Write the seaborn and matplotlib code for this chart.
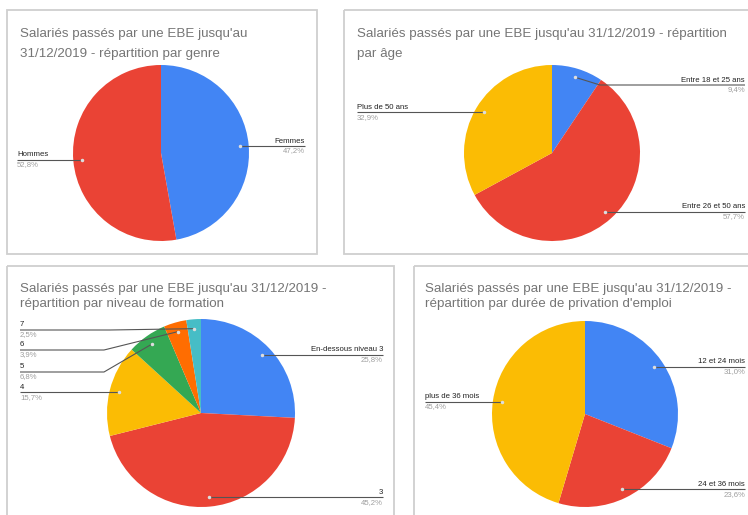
import numpy as np
import matplotlib
matplotlib.use("Agg")
import matplotlib.pyplot as plt
from matplotlib.patches import Rectangle
import seaborn as sns

# ---------------- data ----------------
genre_labels = ["Femmes", "Hommes"]
genre_values = [47.2, 52.8]

age_labels = ["Entre 18 et 25 ans", "Entre 26 et 50 ans", "Plus de 50 ans"]
age_values = [9.4, 57.7, 32.9]

formation_labels = ["En-dessous niveau 3", "3", "4", "5", "6", "7"]
formation_values = [25.8, 45.2, 15.7, 6.8, 3.9, 2.5]

duree_labels = ["12 et 24 mois", "24 et 36 mois", "plus de 36 mois"]
duree_values = [31.0, 23.6, 45.4]

titles = [
    ["Salariés passés par une EBE jusqu'au", "31/12/2019 - répartition par genre"],
    ["Salariés passés par une EBE jusqu'au 31/12/2019 - répartition", "par âge"],
    ["Salariés passés par une EBE jusqu'au 31/12/2019 -", "répartition par niveau de formation"],
    ["Salariés passés par une EBE jusqu'au 31/12/2019 -", "répartition par durée de privation d'emploi"],
]

# ---------------- style ----------------
sns.set_theme(style="white")
plt.rcParams["font.family"] = ["Liberation Sans", "DejaVu Sans"]

palette = sns.color_palette(["#4285F4", "#EA4335", "#FBBC04", "#34A853", "#FF6D01", "#46BDC6"])

W, H = 748, 515
fig = plt.figure(figsize=(W / 100, H / 100), dpi=100)
fig.patch.set_facecolor("white")

bg = fig.add_axes([0, 0, 1, 1], zorder=0)
bg.set_xlim(0, W)
bg.set_ylim(H, 0)
bg.axis("off")

fg = fig.add_axes([0, 0, 1, 1], zorder=5)
fg.set_xlim(0, W)
fg.set_ylim(H, 0)
fg.axis("off")
fg.patch.set_visible(False)

# panel frames (x0, y0, x1, y1) in pixels
panels = [(7, 10, 317, 254), (344, 10, 770, 254), (7, 266, 394, 530), (414, 266, 770, 530)]
for x0, y0, x1, y1 in panels:
    bg.add_patch(Rectangle((x0, y0), x1 - x0, y1 - y0, fill=False,
                           edgecolor="#cfcfcf", linewidth=1.3))

# title positions: x, baseline of line 1, baseline of line 2
title_pos = [(20, 37.5, 57), (357, 37.5, 56.5), (20, 292, 307.5), (425, 292, 307.5)]

# pie geometry: center x, center y, radius (px); label left x, label right x
pies = [
    dict(cx=161, cy=153, r=88, lx=17, rx=305),
    dict(cx=552, cy=153, r=88, lx=357, rx=745),
    dict(cx=201, cy=413, r=94, lx=20, rx=383),
    dict(cx=585, cy=414, r=93, lx=425, rx=745),
]

datasets = [
    (genre_labels, genre_values),
    (age_labels, age_values),
    (formation_labels, formation_values),
    (duree_labels, duree_values),
]

# label line overrides: (panel, index) -> (line_y, elbow_x)
overrides = {
    (1, 0): (85, 600),
    (2, 3): (372, 104),
    (2, 4): (350, 104),
    (2, 5): (330, 110),
}

for i, ((labels, values), geo, tpos, title) in enumerate(zip(datasets, pies, title_pos, titles)):
    cx, cy, r = geo["cx"], geo["cy"], geo["r"]
    ax = fig.add_axes([(cx - r) / W, 1 - (cy + r) / H, 2 * r / W, 2 * r / H], zorder=1)
    wedges, _ = ax.pie(values, colors=palette[:len(values)], startangle=90,
                       counterclock=False, radius=1,
                       wedgeprops=dict(linewidth=0))
    ax.set_xlim(-1, 1)
    ax.set_ylim(-1, 1)
    ax.axis("off")

    for line, yb in zip(title, tpos[1:]):
        fg.text(tpos[0], yb, line, fontsize=9.6, color="#757575",
                ha="left", va="baseline")

    for j, (w, lab, val) in enumerate(zip(wedges, labels, values)):
        mid = np.deg2rad((w.theta1 + w.theta2) / 2)
        ax_x = cx + 0.9 * r * np.cos(mid)
        ax_y = cy - 0.9 * r * np.sin(mid)
        right = np.cos(mid) > 0
        if (i, j) in overrides:
            ly, ex = overrides[(i, j)]
        else:
            ly, ex = ax_y, ax_x
        end_x = geo["rx"] if right else geo["lx"]
        fg.plot([ax_x, ex, end_x], [ax_y, ly, ly], color="#555555", lw=0.8,
                solid_capstyle="butt")
        fg.plot([ax_x], [ax_y], marker="o", ms=1.5, color="#dddddd")
        ha = "right" if right else "left"
        fg.text(end_x, ly - 1.5, lab, fontsize=5.6, color="#222222", ha=ha, va="bottom")
        pct = f"{val:.1f}".replace(".", ",") + "%"
        fg.text(end_x, ly + 1.5, pct, fontsize=5.6, color="#9e9e9e", ha=ha, va="top")

fig.savefig("out.png", dpi=100, facecolor="white")
